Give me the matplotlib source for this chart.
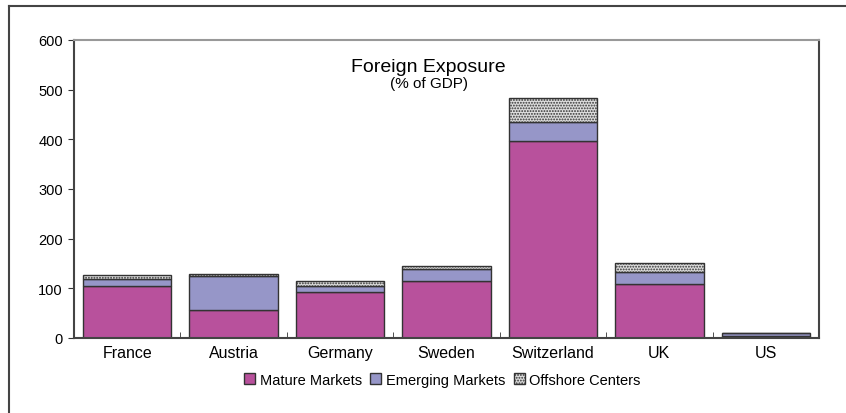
import matplotlib.pyplot as plt
import numpy as np
from matplotlib.lines import Line2D

plt.rcParams['font.family'] = ['Liberation Sans', 'DejaVu Sans']
plt.rcParams['hatch.linewidth'] = 0.9

# datos (% del PIB)
countries = ['France', 'Austria', 'Germany', 'Sweden', 'Switzerland', 'UK', 'US']
mature = [105, 57, 92, 115, 397, 109, 5]
emerging = [14, 68, 13, 24, 38, 24, 5]
offshore = [8, 4, 9, 5, 48, 19, 1]

fig = plt.figure(figsize=(8.46, 4.14), dpi=100)
ax = fig.add_axes([74 / 846, 1 - 339 / 414, (819 - 74) / 846, (339 - 41) / 414])

x = np.arange(len(countries))
w = 0.83
edge = '#333333'
ax.bar(x, mature, w, color='#B8519C', edgecolor=edge, linewidth=1, label='Mature Markets')
ax.bar(x, emerging, w, bottom=mature, color='#9696C8', edgecolor=edge, linewidth=1,
       label='Emerging Markets')
bottom2 = np.array(mature) + np.array(emerging)
ax.bar(x, offshore, w, bottom=bottom2, color='#DDDDDD', edgecolor=edge, linewidth=1,
       hatch='......', label='Offshore Centers')

ax.set_xlim(-0.5, len(countries) - 0.5)
ax.set_ylim(0, 600)
ax.set_yticks(range(0, 601, 100))
ax.set_xticks(x)
ax.set_xticklabels(countries, fontsize=11.5)
ax.set_xticks(np.arange(0.5, len(countries) - 1, 1), minor=True)
ax.tick_params(axis='x', which='major', length=0, pad=5)
ax.tick_params(axis='x', which='minor', direction='in', length=4, color='#333333')
ax.tick_params(axis='y', direction='out', length=4, labelsize=10.5, color='#333333', pad=4)

for s in ['left', 'bottom', 'right']:
    ax.spines[s].set_color('#444444')
    ax.spines[s].set_linewidth(1.5)
ax.spines['top'].set_color('#999999')
ax.spines['top'].set_linewidth(1.5)

ax.text(0.476, 0.91, 'Foreign Exposure', transform=ax.transAxes, ha='center',
        va='center', fontsize=14)
ax.text(0.476, 0.857, '(% of GDP)', transform=ax.transAxes, ha='center',
        va='center', fontsize=11)

fig.legend(loc='center', bbox_to_anchor=(0.523, 0.08), ncol=3, frameon=False,
           fontsize=10.5, handlelength=0.75, handleheight=0.75, handletextpad=0.3,
           columnspacing=0.6)

# marco exterior (solo arriba e izquierda)
fig.add_artist(Line2D([9 / 846, 9 / 846], [0, 1 - 6.5 / 414], color='#444444', lw=1.5))
fig.add_artist(Line2D([9 / 846, 1], [1 - 6.5 / 414, 1 - 6.5 / 414], color='#444444', lw=1.5))

fig.savefig('out.png', dpi=100)
